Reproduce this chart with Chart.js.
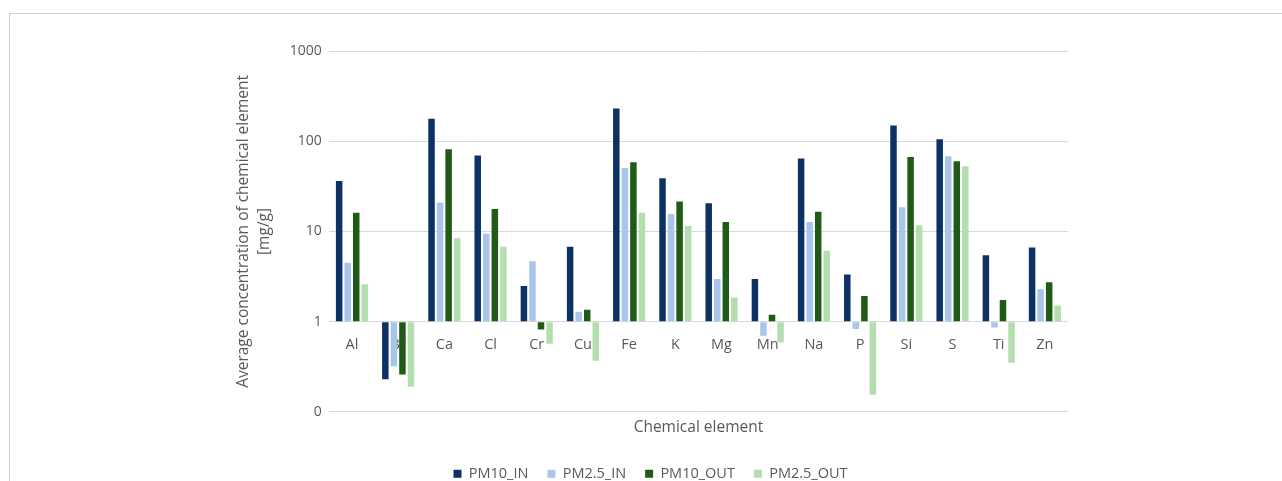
<!DOCTYPE html>
<html>
<head>
<meta charset="utf-8">
<script src="https://cdn.jsdelivr.net/npm/chart.js@4/dist/chart.umd.min.js"></script>
<style>
  html, body { margin: 0; padding: 0; background: #ffffff; overflow: hidden; }
  #wrap { position: relative; width: 1282px; height: 481px; overflow: hidden; }
  #frame { position: absolute; left: 9px; top: 13px; width: 1400px; height: 600px;
           border-top: 1px solid #d0d0d0; border-left: 1px solid #d0d0d0; }
  #chart { position: absolute; left: 0; top: 0; }
</style>
</head>
<body>
<div id="wrap">
  <div id="frame"></div>
  <canvas id="chart" width="1282" height="481"></canvas>
</div>
<script>
// Chemical elements on the category axis
const elements = ['Al', 'Br', 'Ca', 'Cl', 'Cr', 'Cu', 'Fe', 'K', 'Mg', 'Mn', 'Na', 'P', 'Si', 'S', 'Ti', 'Zn'];

// Average concentrations [mg/g]
const pm10In  = [36.2, 0.23, 177, 69.3, 2.49, 6.76, 231, 38.8, 20.6, 2.98, 64.2, 3.33, 149, 105, 5.46, 6.64];
const pm25In  = [4.49, 0.32, 21.0, 9.4, 4.68, 1.29, 50.5, 15.6, 2.98, 0.70, 12.7, 0.83, 18.6, 68.1, 0.86, 2.29];
const pm10Out = [16.1, 0.26, 81.5, 17.7, 0.82, 1.36, 58.4, 21.5, 12.7, 1.19, 16.5, 1.93, 66.9, 59.9, 1.74, 2.73];
const pm25Out = [2.6, 0.19, 8.43, 6.76, 0.57, 0.37, 16.1, 11.5, 1.85, 0.59, 6.1, 0.155, 11.7, 52.7, 0.35, 1.51];

// Value-axis ticks and their printed labels
const yTickValues = [0.1, 1, 10, 100, 1000];
const yTickLabels = ['0', '1', '10', '100', '1000'];

const FONT = '"Open Sans", "Noto Sans", sans-serif';
const GREY = '#595959';

function barSet(label, data, color) {
  return {
    label: label,
    data: data,
    backgroundColor: color,
    borderWidth: 0,
    base: 1,
    categoryPercentage: 0.74,
    barPercentage: 0.76,
    xAxisID: 'x'
  };
}

new Chart(document.getElementById('chart'), {
  type: 'bar',
  data: {
    labels: elements,
    datasets: [
      barSet('PM10_IN', pm10In, '#0c3265'),
      barSet('PM2.5_IN', pm25In, '#a9c5eb'),
      barSet('PM10_OUT', pm10Out, '#1f5b17'),
      barSet('PM2.5_OUT', pm25Out, '#b3dfae')
    ]
  },
  options: {
    responsive: false,
    animation: false,
    events: [],
    layout: { padding: { left: 233, right: 214, top: 51, bottom: -10 } },
    plugins: {
      tooltip: { enabled: false },
      legend: {
        position: 'bottom',
        labels: {
          boxWidth: 8,
          boxHeight: 8,
          padding: 19,
          color: GREY,
          font: { family: FONT, size: 14.5 }
        }
      }
    },
    scales: {
      x: {
        type: 'category',
        position: { y: 1 },
        grid: { display: false },
        border: { display: false },
        ticks: { color: GREY, padding: 6, font: { family: FONT, size: 14.5 } }
      },
      x2: {
        type: 'category',
        position: 'bottom',
        grid: { display: false, drawTicks: false },
        border: { display: false },
        ticks: { display: false },
        title: {
          display: true,
          text: 'Chemical element',
          color: GREY,
          padding: { top: 6, bottom: 11 },
          font: { family: FONT, size: 15.5 }
        }
      },
      y: {
        type: 'logarithmic',
        min: 0.1,
        max: 1000,
        afterBuildTicks: (scale) => {
          scale.ticks = yTickValues.map(v => ({ value: v }));
        },
        grid: { color: '#d9d9d9', lineWidth: 1, drawTicks: false },
        border: { display: false },
        ticks: {
          color: GREY,
          padding: 7,
          font: { family: FONT, size: 14 },
          callback: (value) => {
            const i = yTickValues.indexOf(value);
            return i >= 0 ? yTickLabels[i] : '';
          }
        },
        title: {
          display: true,
          text: ['Average concentration of chemical element', '[mg/g]'],
          color: GREY,
          padding: { top: 0, bottom: 8 },
          font: { family: FONT, size: 15.5, lineHeight: 1.35 }
        }
      }
    }
  }
});
</script>
</body>
</html>
